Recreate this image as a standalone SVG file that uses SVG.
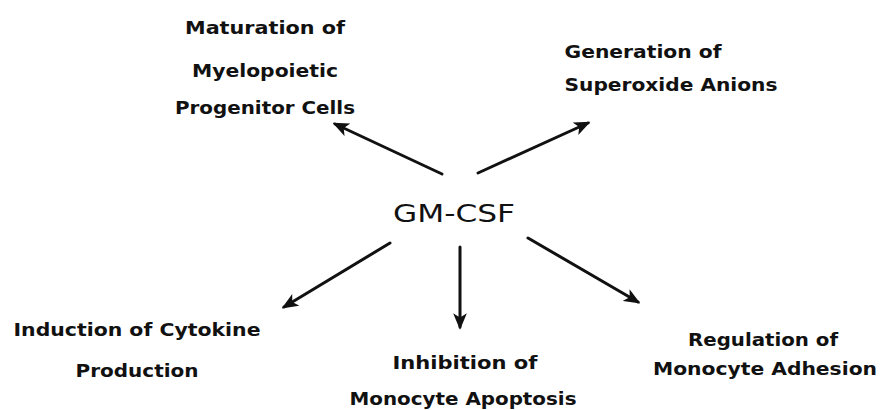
<svg xmlns="http://www.w3.org/2000/svg" width="881" height="410" viewBox="0 0 881 410">
<style>
text{font-family:"DejaVu Sans","Liberation Sans",sans-serif;font-weight:bold;font-size:17px;fill:#111;text-anchor:middle}
.big{font-size:24px;font-weight:normal}
.c line{stroke:#111;stroke-width:3;stroke-linecap:round}
</style>
<defs>
<marker id="ah" viewBox="0 0 12 10" refX="10" refY="5" markerWidth="5.5" markerHeight="4.6" orient="auto" markerUnits="strokeWidth">
<path d="M0,0 L12,5 L0,10 L3,5 Z" fill="#111"/>
</marker>
</defs>
<rect width="881" height="410" fill="#fff"/>
<g id="center"><text class="big" x="454" y="222" textLength="122" lengthAdjust="spacingAndGlyphs">GM-CSF</text></g>
<g id="maturation">
<text x="265" y="34" textLength="160" lengthAdjust="spacingAndGlyphs">Maturation of</text>
<text x="265" y="77" textLength="146" lengthAdjust="spacingAndGlyphs">Myelopoietic</text>
<text x="265" y="114" textLength="180" lengthAdjust="spacingAndGlyphs">Progenitor Cells</text>
</g>
<g id="superoxide">
<text x="643" y="58" textLength="157" lengthAdjust="spacingAndGlyphs">Generation of</text>
<text x="671" y="91" textLength="213" lengthAdjust="spacingAndGlyphs">Superoxide Anions</text>
</g>
<g id="cytokine">
<text x="137" y="336" textLength="247" lengthAdjust="spacingAndGlyphs">Induction of Cytokine</text>
<text x="137" y="377" textLength="123" lengthAdjust="spacingAndGlyphs">Production</text>
</g>
<g id="apoptosis">
<text x="465" y="369" textLength="145" lengthAdjust="spacingAndGlyphs">Inhibition of</text>
<text x="463" y="405" font-size="16" textLength="227" lengthAdjust="spacingAndGlyphs">Monocyte Apoptosis</text>
</g>
<g id="adhesion">
<text x="763" y="346" textLength="150" lengthAdjust="spacingAndGlyphs">Regulation of</text>
<text x="765" y="375" textLength="224" lengthAdjust="spacingAndGlyphs">Monocyte Adhesion</text>
</g>
<g class="c" id="connectors">
<line x1="442" y1="174" x2="335" y2="124" marker-end="url(#ah)"/>
<line x1="478" y1="173" x2="588" y2="123" marker-end="url(#ah)"/>
<line x1="390" y1="243" x2="284" y2="307" marker-end="url(#ah)"/>
<line x1="460" y1="247" x2="460" y2="327" marker-end="url(#ah)"/>
<line x1="528" y1="238" x2="638" y2="302" marker-end="url(#ah)"/>
</g>
</svg>
